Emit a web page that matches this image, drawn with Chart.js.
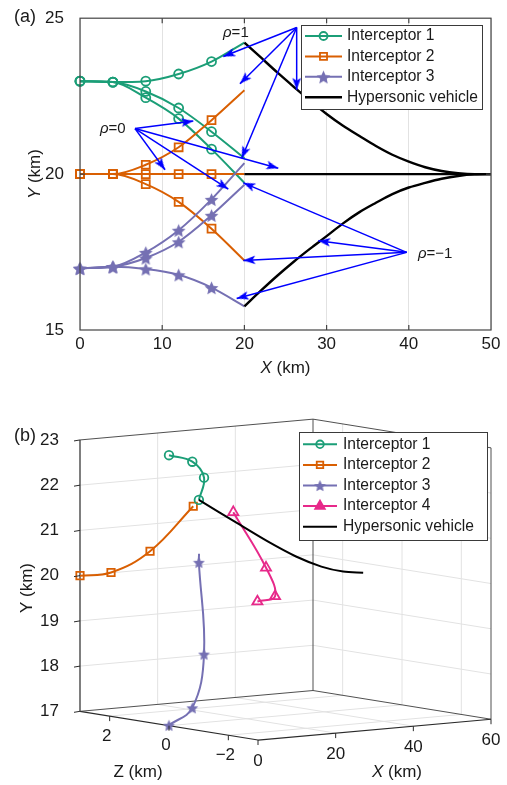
<!DOCTYPE html>
<html lang="en">
<head>
<meta charset="UTF-8">
<title>Interceptor trajectories</title>
<script src="https://cdn.jsdelivr.net/npm/chart.js"></script>
<style>
  html, body { margin: 0; padding: 0; background: #fff; }
  .panel { position: absolute; left: 0; width: 507px; }
  #panelA { top: 0; height: 390px; }
  #panelB { top: 390px; height: 395px; }
</style>
</head>
<body>
<div class="panel" id="panelA"><canvas id="chartA"></canvas></div>
<div class="panel" id="panelB"><canvas id="chartB"></canvas></div>
<script>
// ---------- panel (a): X-Y plane, three runs each ----------
const stepX = [0, 4, 8, 12, 16, 20];
const int1High = [22.98, 22.95, 22.98, 23.21, 23.61, 24.22];
const int1Mid = [22.98, 22.95, 22.65, 22.12, 21.36, 20.51];
const int1Low = [22.98, 22.95, 22.45, 21.78, 20.80, 19.72];
const int2High = [20, 20, 20.30, 20.86, 21.73, 22.69];
const int2Mid = [20, 20, 20, 20, 20, 20];
const int2Low = [20, 20, 19.68, 19.11, 18.25, 17.23];
const int3High = [16.98, 17.03, 17.49, 18.20, 19.19, 20.35];
const int3Mid = [16.98, 17.03, 17.31, 17.83, 18.68, 19.66];
const int3Low = [16.98, 17.03, 16.96, 16.77, 16.36, 15.76];

const vehX = [20, 22, 24, 26, 28, 30, 32, 34, 36, 38, 40, 42, 44, 46, 48, 50];
const vehRho1 = [24.22, 23.74, 23.26, 22.8, 22.35, 21.93, 21.55, 21.22, 20.9, 20.62, 20.4, 20.22, 20.1, 20.03, 20.0, 20.0];
const vehRhoM1 = [15.76, 16.26, 16.74, 17.19, 17.61, 18.01, 18.42, 18.78, 19.08, 19.36, 19.57, 19.72, 19.85, 19.94, 19.99, 20.0];
const vehFlatX = [20, 50];
const vehFlatY = [20, 20];

const xTicksA = [0, 10, 20, 30, 40, 50];
const yTicksA = [15, 20, 25];
const namesA = ['Interceptor 1', 'Interceptor 2', 'Interceptor 3', 'Hypersonic vehicle'];

// annotation arrows (data units): one fan per rho value
const rhoText = [['ρ', '=1'], ['ρ', '=0'], ['ρ', '=−1']];
const rhoTextAt = [[17.4, 24.54], [2.43, 21.44], [41.12, 17.43]];
const arrowFrom = [[26.36, 24.70], [6.69, 21.46], [39.74, 17.49]];
const arrowTo = [
  [[17.43, 23.77], [19.46, 22.90], [19.67, 20.51], [26.36, 22.70]],
  [[13.78, 21.70], [10.34, 20.14], [24.12, 20.19], [18.04, 19.52]],
  [[28.99, 17.86], [19.87, 17.23], [19.06, 16.01], [19.87, 19.72]]
];

// ---------- panel (b): 3-D, X / Y / Z in km ----------
const i1X = [0, 6, 12, 19], i1Y = [22.98, 22.79, 22.35, 21.69], i1Z = [0, 0, 0.39, 1.48];
const i2X = [0, 6, 12, 19], i2Y = [20.0, 20.05, 20.53, 21.53], i2Z = [3, 2.74, 2.21, 1.67];
const i3X = [0, 6, 12, 19, 19.5], i3Y = [17.01, 17.35, 18.45, 20.31, 20.49], i3Z = [0, 0, 0.39, 1.48, 1.54];
const i4X = [0, 6, 12, 19], i4Y = [20.06, 20.11, 20.58, 21.54], i4Z = [-2.98, -2.79, -1.70, 0.32];
const hvX = [19, 25, 30, 35, 40, 45, 50];
const hvY = [21.69, 21.19, 20.78, 20.44, 20.20, 20.06, 20.0];
const hvZ = [1.48, 1.0, 0.6, 0.3, 0.1, 0.02, 0];

const xTicksB = [0, 20, 40, 60];
const yTicksB = [17, 18, 19, 20, 21, 22, 23];
const zTicksB = [2, 0, -2];
const namesB = ['Interceptor 1', 'Interceptor 2', 'Interceptor 3', 'Interceptor 4', 'Hypersonic vehicle'];

// ---------- look ----------
const FONT = '"Liberation Sans", Arial, Helvetica, sans-serif';
const TEXT = '#1a1a1a';
const AXIS = '#444444';
const GRID = '#e2e2e2';
const GREEN = '#1b9e77', ORANGE = '#d95f02', PURPLE = '#7570b3', MAGENTA = '#e7298a', ARROW = '#0000ff';
Chart.defaults.font.family = FONT;
Chart.defaults.color = TEXT;

function starImage(size, color) {
  const c = document.createElement('canvas');
  c.width = size; c.height = size;
  const g = c.getContext('2d');
  const r = size / 2, ri = r * 0.45;
  g.beginPath();
  for (let k = 0; k < 10; k++) {
    const rr = k % 2 ? ri : r - 0.3;
    const a = -Math.PI / 2 + k * Math.PI / 5;
    g.lineTo(r + rr * Math.cos(a), r + size * 0.06 + rr * Math.sin(a));
  }
  g.closePath();
  g.fillStyle = color;
  g.fill();
  return c;
}

// arrow head pointing up, tip at the canvas centre
function arrowImage(color) {
  const c = document.createElement('canvas');
  c.width = 12; c.height = 28;
  const g = c.getContext('2d');
  g.fillStyle = color;
  g.beginPath();
  g.moveTo(6, 14); g.lineTo(10.3, 26); g.lineTo(6, 23.2); g.lineTo(1.7, 26);
  g.closePath();
  g.fill();
  return c;
}

const starA = starImage(15, PURPLE);
const starB = starImage(13, PURPLE);
const arrowHead = arrowImage(ARROW);

const pairs = (xs, ys) => xs.map((x, i) => ({ x, y: ys[i] }));

function drawRich(ctx, parts, x, y, size, align, rotate) {
  ctx.save();
  ctx.translate(x, y);
  if (rotate) ctx.rotate(-Math.PI / 2);
  ctx.textBaseline = 'middle';
  ctx.textAlign = 'left';
  ctx.fillStyle = TEXT;
  const fonts = parts.map(p => (p[1] ? 'italic ' : '') + size + 'px ' + FONT);
  const widths = parts.map((p, i) => { ctx.font = fonts[i]; return ctx.measureText(p[0]).width; });
  let cx = align === 'left' ? 0 : -widths.reduce((s, w) => s + w, 0) / 2;
  parts.forEach((p, i) => { ctx.font = fonts[i]; ctx.fillText(p[0], cx, 0); cx += widths[i]; });
  ctx.restore();
}

function drawLegend(ctx, box, rows) {
  ctx.save();
  ctx.fillStyle = '#ffffff';
  ctx.fillRect(box.x, box.y, box.w, box.h);
  ctx.strokeStyle = '#3a3a3a';
  ctx.lineWidth = 1;
  ctx.strokeRect(box.x + 0.5, box.y + 0.5, box.w, box.h);
  rows.forEach((r, k) => {
    const y = box.y + box.first + k * box.step;
    ctx.strokeStyle = r.color;
    ctx.lineWidth = r.width;
    ctx.beginPath();
    ctx.moveTo(box.x + 4, y);
    ctx.lineTo(box.x + 4 + box.sample, y);
    ctx.stroke();
    if (r.style) {
      ctx.fillStyle = r.fill || 'rgba(0,0,0,0)';
      ctx.lineWidth = 1.8;
      Chart.helpers.drawPoint(ctx, { pointStyle: r.style, radius: r.radius, rotation: 0, borderWidth: 1.8 },
        box.x + 4 + box.sample / 2, y);
    }
    ctx.fillStyle = TEXT;
    ctx.font = '15.6px ' + FONT;
    ctx.textBaseline = 'middle';
    ctx.textAlign = 'left';
    ctx.fillText(r.label, box.x + box.text, y);
  });
  ctx.restore();
}

// ---------- chart (a) ----------
function trackA(ys, color, style, radius, order) {
  const last = stepX.length - 1;
  return {
    data: pairs(stepX, ys),
    borderColor: color, borderWidth: 2, clip: false,
    cubicInterpolationMode: 'monotone',
    pointStyle: style,
    pointRadius: c => (c.dataIndex < last ? radius : 0),
    pointBorderColor: color, pointBackgroundColor: 'rgba(0,0,0,0)', pointBorderWidth: 1.8,
    order
  };
}

function arrowAngle(c) {
  const d = c.dataset.data, sx = c.chart.scales.x, sy = c.chart.scales.y;
  const dx = sx.getPixelForValue(d[1].x) - sx.getPixelForValue(d[0].x);
  const dy = sy.getPixelForValue(d[1].y) - sy.getPixelForValue(d[0].y);
  return Math.atan2(dy, dx) * 180 / Math.PI + 90;
}

const datasetsA = [
  trackA(int1High, GREEN, 'circle', 4.5, 5), trackA(int1Mid, GREEN, 'circle', 4.5, 5), trackA(int1Low, GREEN, 'circle', 4.5, 5),
  trackA(int2High, ORANGE, 'rect', 5.6, 4), trackA(int2Mid, ORANGE, 'rect', 5.6, 4), trackA(int2Low, ORANGE, 'rect', 5.6, 4),
  trackA(int3High, PURPLE, starA, 7, 3), trackA(int3Mid, PURPLE, starA, 7, 3), trackA(int3Low, PURPLE, starA, 7, 3)
];
[vehRho1, vehRhoM1].forEach(ys => datasetsA.push({
  data: pairs(vehX, ys), borderColor: '#000', borderWidth: 2.4,
  cubicInterpolationMode: 'monotone', pointRadius: 0, order: 1
}));
datasetsA.push({ data: pairs(vehFlatX, vehFlatY), borderColor: '#000', borderWidth: 2.4, pointRadius: 0, order: 1 });
arrowFrom.forEach((from, g) => arrowTo[g].forEach(to => datasetsA.push({
  data: [{ x: from[0], y: from[1] }, { x: to[0], y: to[1] }],
  borderColor: ARROW, borderWidth: 1.5,
  pointRadius: [0, 6], pointStyle: arrowHead, pointRotation: arrowAngle,
  order: 0
})));

const decorA = {
  id: 'decorA',
  afterDraw(chart) {
    const { ctx, chartArea: a, scales } = chart;
    ctx.save();
    ctx.strokeStyle = AXIS;
    ctx.lineWidth = 1.2;
    ctx.strokeRect(a.left, a.top, a.right - a.left, a.bottom - a.top);
    ctx.beginPath();
    xTicksA.slice(1, -1).forEach(v => {
      const x = scales.x.getPixelForValue(v);
      ctx.moveTo(x, a.bottom); ctx.lineTo(x, a.bottom - 5);
      ctx.moveTo(x, a.top); ctx.lineTo(x, a.top + 5);
    });
    yTicksA.slice(1, -1).forEach(v => {
      const y = scales.y.getPixelForValue(v);
      ctx.moveTo(a.left, y); ctx.lineTo(a.left + 5, y);
      ctx.moveTo(a.right, y); ctx.lineTo(a.right - 5, y);
    });
    ctx.stroke();
    ctx.restore();

    rhoText.forEach((t, k) => drawRich(ctx, [[t[0], true], [t[1], false]],
      scales.x.getPixelForValue(rhoTextAt[k][0]), scales.y.getPixelForValue(rhoTextAt[k][1]), 15, 'left'));

    drawRich(ctx, [['X', true], [' (km)', false]], (a.left + a.right) / 2, 368, 17, 'center');
    drawRich(ctx, [['Y', true], [' (km)', false]], 35, (a.top + a.bottom) / 2, 17, 'center', true);
    drawRich(ctx, [['(a)', false]], 25, 17, 18, 'center');

    drawLegend(ctx, { x: 301, y: 25, w: 181, h: 84, first: 11, step: 20.4, sample: 37, text: 46 }, [
      { label: namesA[0], color: GREEN, width: 2, style: 'circle', radius: 4 },
      { label: namesA[1], color: ORANGE, width: 2, style: 'rect', radius: 5 },
      { label: namesA[2], color: PURPLE, width: 2, style: starA, radius: 7 },
      { label: namesA[3], color: '#000', width: 2.4 }
    ]);
  }
};

new Chart(document.getElementById('chartA'), {
  type: 'line',
  data: { datasets: datasetsA },
  options: {
    responsive: true, maintainAspectRatio: false, animation: false, events: [],
    layout: { padding: { top: 15, right: 16, left: 0, bottom: 0 } },
    plugins: { legend: { display: false }, tooltip: { enabled: false } },
    scales: {
      x: {
        type: 'linear', min: 0, max: 50,
        afterBuildTicks: s => { s.ticks = xTicksA.map(v => ({ value: v })); },
        afterFit: s => { s.height = 60; },
        grid: { color: GRID, drawTicks: false },
        border: { display: false },
        ticks: { font: { size: 17 }, color: TEXT, padding: 4, maxRotation: 0, autoSkip: false }
      },
      y: {
        type: 'linear', min: 15, max: 25,
        afterBuildTicks: s => { s.ticks = yTicksA.map(v => ({ value: v })); },
        afterFit: s => { s.width = 80; },
        grid: { display: false },
        border: { display: false },
        ticks: { font: { size: 17 }, color: TEXT, padding: 8 }
      }
    }
  },
  plugins: [decorA]
});

// ---------- chart (b): oblique view of the box X 0..60, Y 17..23, Z -3..3 ----------
const VIEW = { xU: 233 / 60, zU: 178 / 6, xV: 0.35 / 45.67, zV: 4.83 / 45.67, zBack: 3 };
function proj(X, Y, Z) {
  const dz = VIEW.zBack - Z;
  return { x: VIEW.xU * X + VIEW.zU * dz, y: Y + VIEW.xV * X - VIEW.zV * dz };
}
const proj3 = (xs, ys, zs) => xs.map((x, i) => proj(x, ys[i], zs[i]));

const gridSegs = [];
[18, 19, 20, 21, 22].forEach(Y => {
  gridSegs.push([[0, Y, 3], [60, Y, 3]], [[60, Y, 3], [60, Y, -3]]);
});
[20, 40].forEach(X => {
  gridSegs.push([[X, 17, 3], [X, 23, 3]], [[X, 17, 3], [X, 17, -3]]);
});
zTicksB.forEach(Z => {
  gridSegs.push([[60, 17, Z], [60, 23, Z]], [[0, 17, Z], [60, 17, Z]]);
});
const edgeSegs = [
  [[0, 23, 3], [60, 23, 3]], [[60, 23, 3], [60, 23, -3]],
  [[60, 17, 3], [60, 23, 3]], [[60, 17, -3], [60, 23, -3]],
  [[0, 17, 3], [60, 17, 3]], [[60, 17, 3], [60, 17, -3]]
];
const axisSegs = [[[0, 17, 3], [0, 23, 3]], [[0, 17, 3], [0, 17, -3]], [[0, 17, -3], [60, 17, -3]]];

function segData(segs) {
  const out = [];
  segs.forEach(([p, q]) => out.push(proj(...p), proj(...q), { x: null, y: null }));
  return out;
}

function trackB(data, color, style, radius, markers, fill) {
  return {
    data, borderColor: color, borderWidth: 2, tension: 0.4, clip: false,
    pointStyle: style,
    pointRadius: c => (c.dataIndex < markers ? radius : 0),
    pointBorderColor: color, pointBackgroundColor: fill || 'rgba(0,0,0,0)', pointBorderWidth: 1.8,
    order: 2
  };
}

const datasetsB = [
  { data: segData(gridSegs), borderColor: GRID, borderWidth: 1, pointRadius: 0, spanGaps: false, clip: false, order: 9 },
  { data: segData(edgeSegs), borderColor: '#3c3c3c', borderWidth: 0.9, pointRadius: 0, spanGaps: false, clip: false, order: 8 },
  { data: segData(axisSegs), borderColor: '#2a2a2a', borderWidth: 1.2, pointRadius: 0, spanGaps: false, clip: false, order: 8 },
  trackB(proj3(i1X, i1Y, i1Z), GREEN, 'circle', 4.3, 4),
  trackB(proj3(i2X, i2Y, i2Z), ORANGE, 'rect', 5.2, 4),
  trackB(proj3(i3X, i3Y, i3Z), PURPLE, starB, 7, 4),
  trackB(proj3(i4X, i4Y, i4Z), MAGENTA, 'triangle', 5.8, 4),
  { data: proj3(hvX, hvY, hvZ), borderColor: '#000', borderWidth: 2, tension: 0.3, pointRadius: 0, clip: false, order: 1 }
];

const decorB = {
  id: 'decorB',
  afterDraw(chart) {
    const { ctx, scales } = chart;
    const px = (X, Y, Z) => {
      const p = proj(X, Y, Z);
      return [scales.x.getPixelForValue(p.x), scales.y.getPixelForValue(p.y)];
    };
    ctx.save();
    ctx.strokeStyle = '#2a2a2a';
    ctx.lineWidth = 1;
    ctx.beginPath();
    yTicksB.forEach(Y => { const [x, y] = px(0, Y, 3); ctx.moveTo(x, y); ctx.lineTo(x - 6, y + 1); });
    zTicksB.forEach(Z => { const [x, y] = px(0, 17, Z); ctx.moveTo(x, y); ctx.lineTo(x, y + 5); });
    xTicksB.forEach(X => { const [x, y] = px(X, 17, -3); ctx.moveTo(x, y); ctx.lineTo(x, y + 5); });
    ctx.stroke();
    ctx.fillStyle = TEXT;
    ctx.font = '17px ' + FONT;
    ctx.textAlign = 'center';
    ctx.textBaseline = 'middle';
    zTicksB.forEach(Z => {
      const [x, y] = px(0, 17, Z);
      ctx.fillText(Z < 0 ? '−' + Math.abs(Z) : String(Z), x - 3, y + 20);
    });
    xTicksB.forEach(X => {
      const [x, y] = px(X, 17, -3);
      ctx.fillText(String(X), x, y + 21);
    });
    ctx.restore();

    drawRich(ctx, [['Z', false], [' (km)', false]], 138, 382, 17, 'center');
    drawRich(ctx, [['X', true], [' (km)', false]], 397, 382, 17, 'center');
    drawRich(ctx, [['Y', false], [' (km)', false]], 27, 198, 17, 'center', true);
    drawRich(ctx, [['(b)', false]], 25, 46, 18, 'center');

    drawLegend(ctx, { x: 299, y: 42, w: 188, h: 108, first: 12.3, step: 20.6, sample: 34, text: 44 }, [
      { label: namesB[0], color: GREEN, width: 2, style: 'circle', radius: 3.8 },
      { label: namesB[1], color: ORANGE, width: 2, style: 'rect', radius: 4.6 },
      { label: namesB[2], color: PURPLE, width: 2, style: starB, radius: 7 },
      { label: namesB[3], color: MAGENTA, width: 2, style: 'triangle', radius: 5.5, fill: MAGENTA },
      { label: namesB[4], color: '#000', width: 2 }
    ]);
  }
};

const PXB = 45.67;
new Chart(document.getElementById('chartB'), {
  type: 'line',
  data: { datasets: datasetsB },
  options: {
    responsive: true, maintainAspectRatio: false, animation: false, events: [],
    layout: { padding: { top: 20, right: 16, left: 0, bottom: 40 } },
    plugins: { legend: { display: false }, tooltip: { enabled: false } },
    scales: {
      x: { type: 'linear', display: false, min: 0, max: 411 },
      y: {
        type: 'linear', min: 17 - 34 / PXB, max: 23 + 27 / PXB,
        afterBuildTicks: s => { s.ticks = yTicksB.map(v => ({ value: v })); },
        afterFit: s => { s.width = 80; },
        grid: { display: false },
        border: { display: false },
        ticks: { font: { size: 17 }, color: TEXT, padding: 13 }
      }
    }
  },
  plugins: [decorB]
});
</script>
</body>
</html>
